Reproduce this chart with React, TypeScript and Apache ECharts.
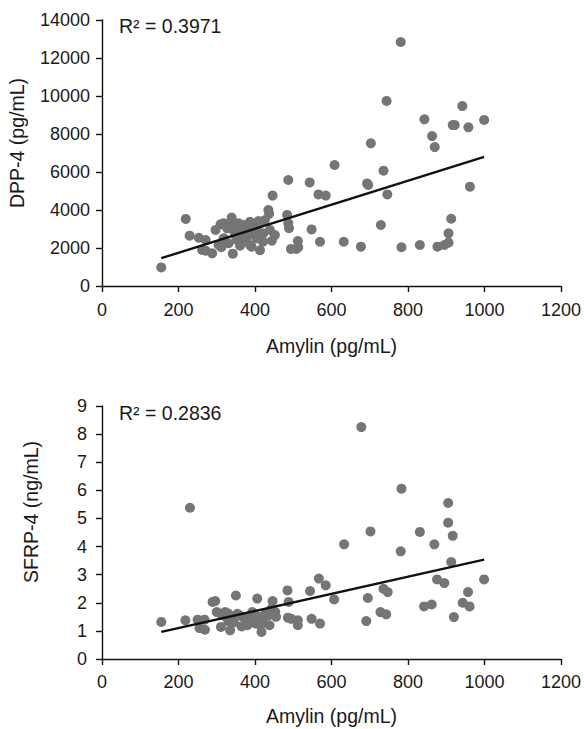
import React, { useEffect, useRef } from "react";
import * as echarts from "echarts";

// ---- Data ----
// Top panel: Amylin (pg/mL) vs DPP-4 (pg/mL)
const amylinTop = [
  155, 219, 229, 253, 262, 271, 271, 288, 297, 305, 310, 312, 318, 331, 339, 342, 344, 350, 353, 357,
  361, 365, 367, 374, 374, 381, 387, 391, 396, 398, 405, 409, 413, 417, 422, 426, 435, 437, 439, 444,
  446, 452, 484, 487, 487, 489, 494, 508, 512, 513, 543, 548, 566, 570, 585, 608, 632, 677, 693, 696,
  703, 729, 736, 744, 746, 781, 783, 831, 843, 863, 870, 877, 895, 906, 906, 913, 917, 922, 942, 958,
  962, 999, 318, 331, 348, 378, 395, 404, 387, 417, 370, 421, 327,
];
const dpp4 = [
  980, 3530, 2650, 2540, 1900, 2420, 1860, 1720, 2950, 2160, 3250, 2040, 3300, 3260, 3600, 1700, 2950, 3120, 2420, 3300,
  2120, 2770, 2780, 2950, 2460, 3120, 3380, 2070, 2770, 3040, 2950, 3420, 1880, 3340, 2770, 3470, 4000, 3800, 2950, 2380,
  4760, 2680, 3740, 5580, 3300, 3040, 1950, 1950, 2370, 2040, 5450, 2980, 4820, 2330, 4760, 6370, 2330, 2070, 5400, 5320,
  7510, 3210, 6070, 9740, 4820, 12840, 2040, 2160, 8770, 7890, 7310, 2070, 2160, 2280, 2770, 3540, 8470, 8470, 9470, 8350,
  5230, 8740, 2510, 2250, 2680, 2510, 2860, 2510, 2160, 2680, 3210, 2330, 3035,
];
const dpp4Fit = { slope: 6.32, intercept: 483 };
const dpp4R2 = "R² = 0.3971";

// Bottom panel: Amylin (pg/mL) vs SFRP-4 (ng/mL)
const amylinBottom = [
  155, 218, 230, 250, 255, 269, 268, 289, 296, 300, 311, 311, 322, 335, 339, 350, 354, 365, 369, 383,
  393, 402, 406, 410, 414, 417, 427, 438, 443, 446, 453, 485, 486, 488, 495, 512, 512, 544, 548, 567,
  570, 585, 607, 633, 678, 691, 695, 702, 728, 736, 743, 747, 781, 783, 831, 842, 862, 869, 876, 895,
  905, 905, 913, 917, 920, 943, 957, 961, 999, 316, 330, 345, 360, 375, 390, 400, 420, 435, 455, 380, 330,
];
const sfrp4 = [
  1.32, 1.38, 5.38, 1.40, 1.10, 1.04, 1.40, 2.03, 2.06, 1.67, 1.14, 1.61, 1.67, 1.02, 1.49, 2.26, 1.61, 1.16, 1.49, 1.38,
  1.67, 1.26, 2.15, 1.49, 1.20, 0.96, 1.61, 1.20, 1.79, 2.06, 1.67, 2.44, 1.47, 2.03, 1.43, 1.20, 1.38, 2.42, 1.43, 2.86,
  1.26, 2.62, 2.12, 4.08, 8.25, 1.35, 2.17, 4.54, 1.67, 2.50, 1.59, 2.38, 3.83, 6.06, 4.52, 1.87, 1.94, 4.08, 2.83, 2.70,
  5.55, 4.85, 3.45, 4.38, 1.49, 2.00, 2.38, 1.87, 2.83, 1.55, 1.35, 1.30, 1.55, 1.45, 1.30, 1.55, 1.40, 1.55, 1.50, 1.20, 1.62,
];
const sfrp4Fit = { slope: 0.00305, intercept: 0.49 };
const sfrp4R2 = "R² = 0.2836";

const xAxisName = "Amylin (pg/mL)";
const yNameTop = "DPP-4 (pg/mL)";
const yNameBottom = "SFRP-4 (ng/mL)";

const FONT = '"Liberation Sans", Arial, Helvetica, sans-serif';
const TEXT = "#1a1a1a";
const DOT = "#757575";
const NAME_SIZE = 19.5;
const TICK_SIZE = 18;

function pairs(xs: number[], ys: number[]) {
  return xs.map((x, i) => [x, ys[i]]);
}
function fitLine(xs: number[], fit: { slope: number; intercept: number }) {
  const lo = Math.min(...xs);
  const hi = Math.max(...xs);
  return [
    [lo, fit.intercept + fit.slope * lo],
    [hi, fit.intercept + fit.slope * hi],
  ];
}
const plain = (v: number) => String(v);

function xAxis(gridIndex: number, nameGap: number, labelMargin: number) {
  return {
    type: "value",
    gridIndex,
    min: 0,
    max: 1200,
    interval: 200,
    name: xAxisName,
    nameLocation: "middle",
    nameGap,
    nameTextStyle: { fontFamily: FONT, fontSize: NAME_SIZE, color: TEXT },
    axisLine: { show: true, onZero: false, lineStyle: { color: "#111", width: 1.4 } },
    axisTick: { show: true, inside: false, length: 6, lineStyle: { color: "#111", width: 1.4 } },
    axisLabel: { fontFamily: FONT, fontSize: TICK_SIZE, color: TEXT, margin: labelMargin, formatter: plain, showMaxLabel: true },
    splitLine: { show: false },
  };
}
function yAxis(gridIndex: number, max: number, interval: number, labelMargin: number) {
  return {
    type: "value",
    gridIndex,
    min: 0,
    max,
    interval,
    axisLine: { show: true, onZero: false, lineStyle: { color: "#111", width: 1.4 } },
    axisTick: { show: true, inside: false, length: 6, lineStyle: { color: "#111", width: 1.4 } },
    axisLabel: { fontFamily: FONT, fontSize: TICK_SIZE, color: TEXT, margin: labelMargin, formatter: plain },
    splitLine: { show: false },
  };
}

export default function App() {
  const ref = useRef<HTMLDivElement>(null);
  useEffect(() => {
    if (!ref.current) return;
    const chart = echarts.init(ref.current, null, { renderer: "svg" });
    chart.setOption({
      animation: false,
      backgroundColor: "#ffffff",
      grid: [
        { left: 102, top: 20, width: 463, height: 266 },
        { left: 102, top: 406, width: 463, height: 253 },
      ],
      xAxis: [xAxis(0, 50, 15), xAxis(1, 47, 14)],
      yAxis: [yAxis(0, 14000, 2000, 12), yAxis(1, 9, 1, 15)],
      series: [
        {
          type: "scatter",
          xAxisIndex: 0,
          yAxisIndex: 0,
          data: pairs(amylinTop, dpp4),
          symbolSize: 10,
          itemStyle: { color: DOT, opacity: 1 },
          z: 2,
        },
        {
          type: "line",
          xAxisIndex: 0,
          yAxisIndex: 0,
          data: fitLine(amylinTop, dpp4Fit),
          symbol: "none",
          lineStyle: { color: "#111", width: 2.4 },
          z: 3,
        },
        {
          type: "scatter",
          xAxisIndex: 1,
          yAxisIndex: 1,
          data: pairs(amylinBottom, sfrp4),
          symbolSize: 10,
          itemStyle: { color: DOT, opacity: 1 },
          z: 2,
        },
        {
          type: "line",
          xAxisIndex: 1,
          yAxisIndex: 1,
          data: fitLine(amylinBottom, sfrp4Fit),
          symbol: "none",
          lineStyle: { color: "#111", width: 2.4 },
          z: 3,
        },
      ],
      graphic: [
        {
          type: "text",
          x: 119,
          y: 26,
          style: { text: dpp4R2, fontFamily: FONT, fontSize: NAME_SIZE, fill: TEXT, verticalAlign: "middle" },
        },
        {
          type: "text",
          x: 119,
          y: 413,
          style: { text: sfrp4R2, fontFamily: FONT, fontSize: NAME_SIZE, fill: TEXT, verticalAlign: "middle" },
        },
        {
          type: "text",
          x: 17,
          y: 143,
          rotation: Math.PI / 2,
          style: { text: yNameTop, fontFamily: FONT, fontSize: NAME_SIZE, fill: TEXT, align: "center", verticalAlign: "middle" },
        },
        {
          type: "text",
          x: 31,
          y: 512,
          rotation: Math.PI / 2,
          style: { text: yNameBottom, fontFamily: FONT, fontSize: NAME_SIZE, fill: TEXT, align: "center", verticalAlign: "middle" },
        },
      ],
    });
    return () => chart.dispose();
  }, []);
  return (
    <div
      ref={ref}
      style={{ position: "absolute", left: 0, top: 0, width: 584, height: 729, background: "#fff" }}
    />
  );
}
